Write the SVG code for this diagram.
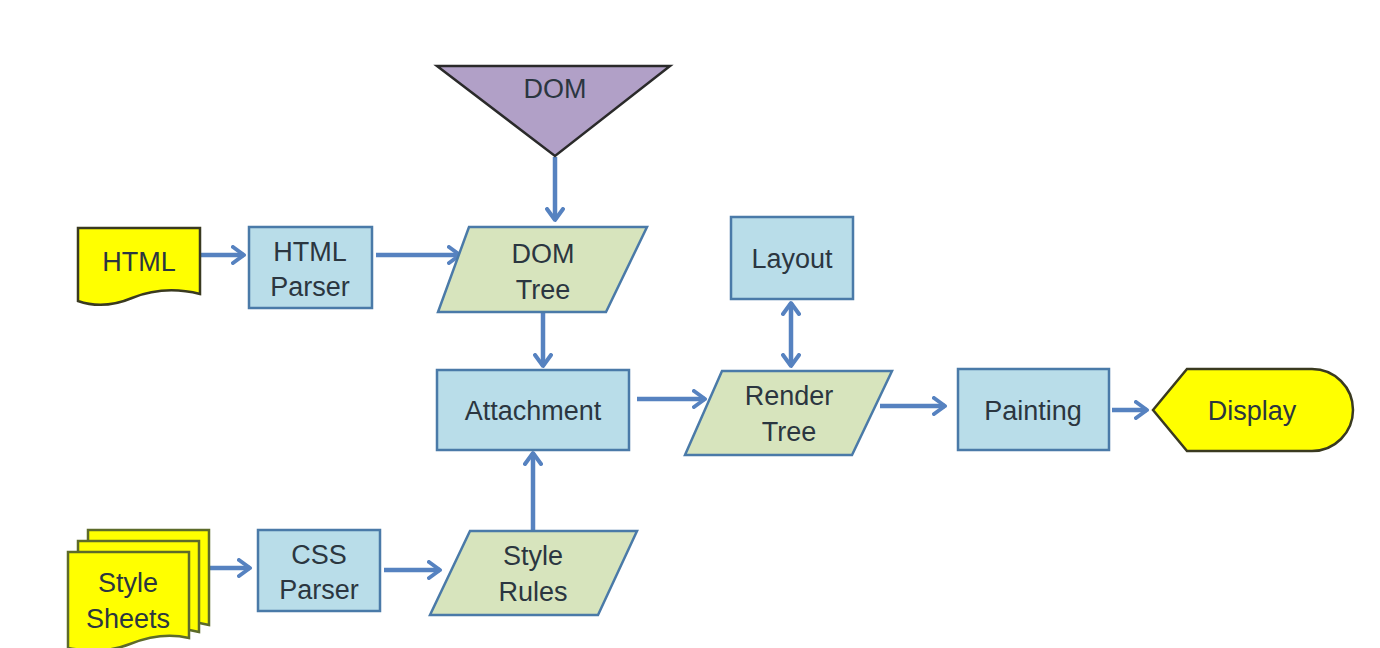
<svg xmlns="http://www.w3.org/2000/svg" width="1380" height="648" viewBox="0 0 1380 648">
<defs>
<style>
.box{fill:#b9dde9;stroke:#4a7aa8;stroke-width:2.5}
.para{fill:#d7e4bd;stroke:#4a7aa8;stroke-width:2.5}
.doc{fill:#ffff00;stroke:#3a3a20;stroke-width:2.5}
.sheet{fill:#ffff00;stroke:#5d6b2a;stroke-width:2.5}
.tri{fill:#b1a0c7;stroke:#2a2a2a;stroke-width:2.5}
.t{font-family:"Liberation Sans",Arial,sans-serif;font-size:27px;fill:#2b3640;text-anchor:middle}
.c{fill:none;stroke:#5682c0;stroke-width:4.5}
</style>
<marker id="ah" viewBox="0 0 16 20" refX="13" refY="10" markerWidth="16" markerHeight="20" markerUnits="userSpaceOnUse" orient="auto-start-reverse">
<path d="M2,2 L13,10 L2,18" fill="none" stroke="#5682c0" stroke-width="4" stroke-linecap="round" stroke-linejoin="round"/>
</marker>
</defs>
<rect width="1380" height="648" fill="#ffffff"/>
<g id="connectors">
<path class="c" d="M555,157 V220" marker-end="url(#ah)"/>
<path class="c" d="M201,255 H244" marker-end="url(#ah)"/>
<path class="c" d="M376,255 H460" marker-end="url(#ah)"/>
<path class="c" d="M543,313 V366" marker-end="url(#ah)"/>
<path class="c" d="M637,399 H705" marker-end="url(#ah)"/>
<path class="c" d="M791,303 V366" marker-start="url(#ah)" marker-end="url(#ah)"/>
<path class="c" d="M880,406 H945" marker-end="url(#ah)"/>
<path class="c" d="M1112,410 H1147" marker-end="url(#ah)"/>
<path class="c" d="M533,530 V453" marker-end="url(#ah)"/>
<path class="c" d="M210,568 H250" marker-end="url(#ah)"/>
<path class="c" d="M384,570 H440" marker-end="url(#ah)"/>
</g>
<g id="dom">
<path class="tri" d="M437,66 L670,66 L555,156 Z"/>
<text class="t" x="555" y="98">DOM</text>
</g>
<g id="html">
<path class="doc" d="M78,228 L200,228 L200,294 C176,288 152,290 132,298 C113,306 95,307 78,301 Z"/>
<text class="t" x="139" y="271">HTML</text>
</g>
<g id="html-parser">
<rect class="box" x="249" y="227" width="123" height="81"/>
<text class="t" x="310" y="261">HTML</text>
<text class="t" x="310" y="296">Parser</text>
</g>
<g id="dom-tree">
<path class="para" d="M469,227 L647,227 L606,312 L438,312 Z"/>
<text class="t" x="543" y="263">DOM</text>
<text class="t" x="543" y="299">Tree</text>
</g>
<g id="layout">
<rect class="box" x="731" y="217" width="122" height="82"/>
<text class="t" x="792" y="268">Layout</text>
</g>
<g id="attachment">
<rect class="box" x="437" y="370" width="192" height="80"/>
<text class="t" x="533" y="420">Attachment</text>
</g>
<g id="render-tree">
<path class="para" d="M722,371 L892,371 L852,455 L685,455 Z"/>
<text class="t" x="789" y="405">Render</text>
<text class="t" x="789" y="441">Tree</text>
</g>
<g id="painting">
<rect class="box" x="958" y="369" width="151" height="81"/>
<text class="t" x="1033" y="420">Painting</text>
</g>
<g id="display">
<path class="doc" d="M1153,410 L1187,369 L1312,369 A41,41 0 0 1 1312,451 L1187,451 Z"/>
<text class="t" x="1252" y="420">Display</text>
</g>
<g id="style-sheets">
<path class="sheet" d="M88,530 L209,530 L209,625 C190,620 170,623 150,630 L88,640 Z"/>
<path class="sheet" d="M78,541 L199,541 L199,632 C180,627 160,630 140,637 L78,648 Z"/>
<path class="sheet" d="M68,552 L189,552 L189,638 C168,633 150,636 130,644 C110,652 90,652 68,648 Z"/>
<text class="t" x="128" y="592">Style</text>
<text class="t" x="128" y="628">Sheets</text>
</g>
<g id="css-parser">
<rect class="box" x="258" y="530" width="122" height="81"/>
<text class="t" x="319" y="564">CSS</text>
<text class="t" x="319" y="599">Parser</text>
</g>
<g id="style-rules">
<path class="para" d="M470,531 L637,531 L598,615 L430,615 Z"/>
<text class="t" x="533" y="565">Style</text>
<text class="t" x="533" y="601">Rules</text>
</g>
</svg>
